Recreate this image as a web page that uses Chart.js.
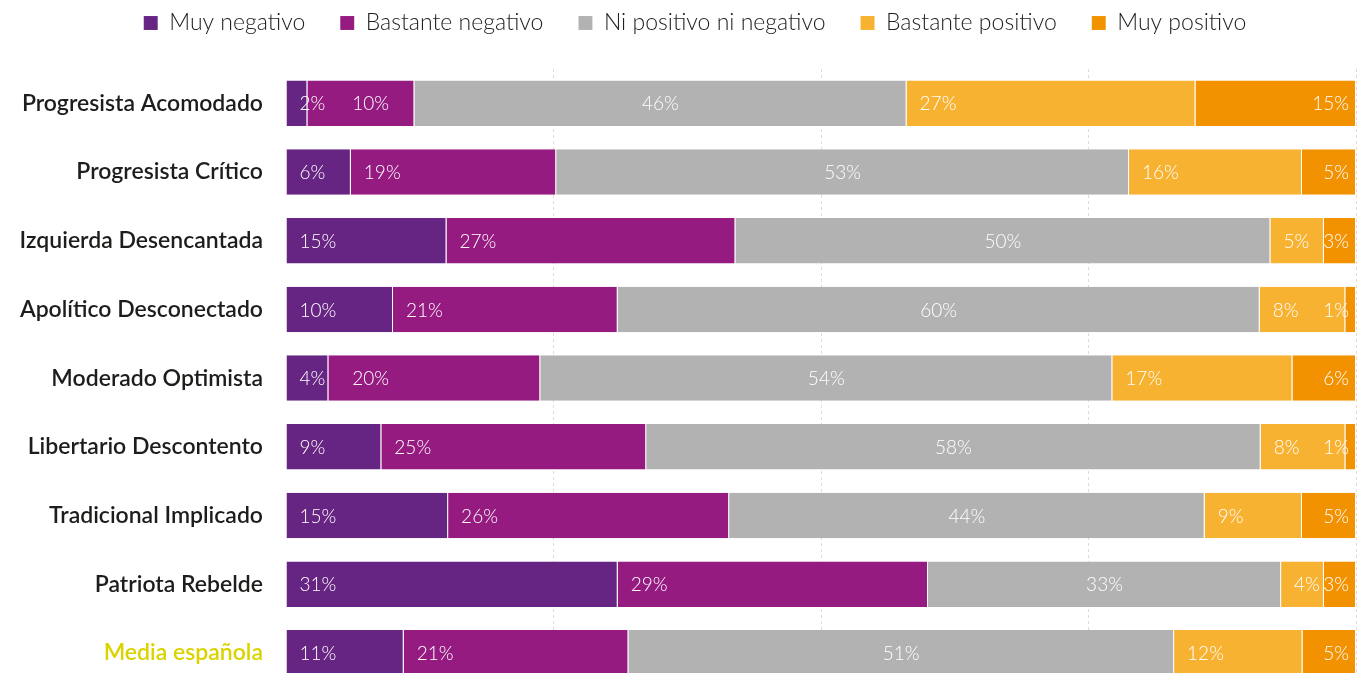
<!DOCTYPE html>
<html lang="es">
<head>
<meta charset="utf-8">
<title>Valoración por segmento</title>
<script src="https://cdn.jsdelivr.net/npm/chart.js@4/dist/chart.umd.min.js"></script>
<style>
    html, body { margin: 0; padding: 0; background: #fff; overflow: hidden; }
    #wrap { position: relative; width: 1367px; height: 724px; }
</style>
</head>
<body>
<div id="wrap"><canvas id="myChart"></canvas></div>
<script>
// Segments (top to bottom)
const categories = [
    'Progresista Acomodado',
    'Progresista Crítico',
    'Izquierda Desencantada',
    'Apolítico Desconectado',
    'Moderado Optimista',
    'Libertario Descontento',
    'Tradicional Implicado',
    'Patriota Rebelde',
    'Media española'
];

// Percentages as printed on the bars
const muyNegativo = [2, 6, 15, 10, 4, 9, 15, 31, 11];
const bastanteNegativo = [10, 19, 27, 21, 20, 25, 26, 29, 21];
const niPositivoNiNegativo = [46, 53, 50, 60, 54, 58, 44, 33, 51];
const bastantePositivo = [27, 16, 5, 8, 17, 8, 9, 4, 12];
const muyPositivo = [15, 5, 3, 1, 6, 1, 5, 3, 5];

const seriesNames = ['Muy negativo', 'Bastante negativo', 'Ni positivo ni negativo', 'Bastante positivo', 'Muy positivo'];
const seriesColors = ['#662483', '#951b81', '#b2b2b2', '#f7b232', '#f39200'];

document.addEventListener('DOMContentLoaded', function () {
    const series = [muyNegativo, bastanteNegativo, niPositivoNiNegativo, bastantePositivo, muyPositivo];

    // rows don't always add up to 100, bars are stretched to full width
    const totals = categories.map((c, i) => series.reduce((s, arr) => s + arr[i], 0));

    // fixed legend block height, legend row pulled up and nudged right
    const legendTweak = {
        id: 'legendTweak',
        beforeInit(chart) {
            const fit = chart.legend.fit;
            chart.legend.fit = function () {
                fit.bind(chart.legend)();
                this.height = 69;
            };
        },
        afterLayout(chart) {
            chart.legend.top = -23.5;
            chart.legend.left += 17;
            chart.legend.right += 17;
        }
    };

    // percentage labels inside the segments
    const segmentLabels = {
        id: 'segmentLabels',
        afterDatasetsDraw(chart) {
            const c = chart.ctx;
            c.save();
            c.font = '300 19px Lato';
            c.fillStyle = '#ffffff';
            c.textBaseline = 'middle';
            c.textAlign = 'left';
            categories.forEach((cat, i) => {
                let prevEnd = -Infinity;
                series.forEach((arr, d) => {
                    const bar = chart.getDatasetMeta(d).data[i];
                    const text = arr[i] + '%';
                    const w = c.measureText(text).width;
                    let x;
                    if (d === 2) {
                        x = (bar.base + bar.x) / 2 - w / 2;
                    } else if (d === 4) {
                        x = bar.x - 7 - w;
                    } else {
                        x = Math.max(bar.base + 13, prevEnd + 27);
                    }
                    c.fillText(text, x, bar.y + 1);
                    prevEnd = x + w;
                });
            });
            c.restore();
        }
    };

    const ctx = document.getElementById('myChart').getContext('2d');
    const segmentChart = new Chart(ctx, {
        type: 'bar',
        data: {
            labels: categories,
            datasets: series.map((arr, d) => ({
                label: seriesNames[d],
                data: arr.map((v, i) => v / totals[i] * 100),
                backgroundColor: seriesColors[d],
                borderColor: 'rgba(255, 255, 255, 0.35)',
                borderWidth: { top: 0, bottom: 0, left: 0, right: 1 },
                borderSkipped: false,
                categoryPercentage: 1,
                barPercentage: 0.663
            }))
        },
        options: {
            indexAxis: 'y',
            responsive: true,
            maintainAspectRatio: false,
            animation: false,
            layout: {
                padding: { top: 0, right: 11, bottom: 0, left: 0 }
            },
            plugins: {
                legend: {
                    position: 'top',
                    labels: {
                        boxWidth: 14,
                        boxHeight: 14,
                        padding: 35,
                        color: '#1d1d1b',
                        font: { family: 'Lato', size: 23, weight: '300' }
                    }
                },
                tooltip: { enabled: false }
            },
            scales: {
                x: {
                    stacked: true,
                    min: 0,
                    max: 100,
                    ticks: { display: false, stepSize: 25 },
                    grid: {
                        drawTicks: false,
                        color: (c) => c.tick && c.tick.value === 0 ? 'rgba(0,0,0,0)' : '#ecd9cd',
                        lineWidth: 1
                    },
                    border: { display: false, dash: [3, 3] }
                },
                y: {
                    stacked: true,
                    afterFit(scale) {
                        scale.width = 286;
                    },
                    ticks: {
                        padding: 23,
                        color: (c) => c.index === categories.length - 1 ? '#dbd300' : '#1d1d1b',
                        font: { family: 'Lato', size: 23, weight: '600' }
                    },
                    grid: { display: false, drawTicks: false },
                    border: { display: false }
                }
            }
        },
        plugins: [legendTweak, segmentLabels]
    });
});
</script>
</body>
</html>
